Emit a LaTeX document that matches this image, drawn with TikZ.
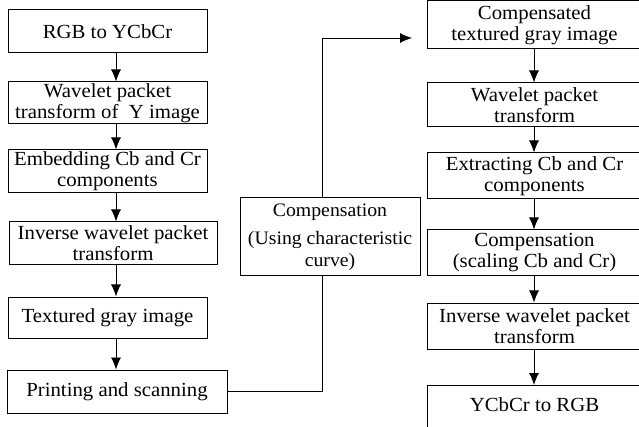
\documentclass[tikz,border=0pt]{standalone}
\usepackage{fontspec}
\setmainfont{Liberation Serif}[FakeStretch=1.04]
\usetikzlibrary{arrows.meta}

\begin{document}
\begin{tikzpicture}[x=1pt,y=-1pt,
    box/.style={draw, line width=1pt, align=center, inner sep=0pt,
        font=\rmfamily\fontsize{20}{21}\selectfont},
    arr/.style={line width=0.9pt, -{Latex[length=12pt,width=10pt]}}]

    % Fix the page to the size of the picture
    \useasboundingbox (0,0) rectangle (639,427);

    % Left column: from the colour image to the printed page
    \node[box, minimum width=199pt, minimum height=43pt] (b1) at (107.5,31.5) {RGB to YCbCr};
    \node[box, minimum width=199pt, minimum height=42pt] (b2) at (107.5,103) {Wavelet packet\\transform of\ \ Y image};
    \node[box, minimum width=199pt, minimum height=43pt] (b3) at (107.5,171.5) {Embedding Cb and Cr\\components};
    \node[box, minimum width=208pt, minimum height=43pt] (b4) at (113,243.5) {Inverse wavelet packet\\transform};
    \node[box, minimum width=199pt, minimum height=41pt] (b5) at (107.5,317.5) {Textured gray image};
    \node[box, minimum width=220pt, minimum height=43pt] (b6) at (117,391.5) {Printing and scanning};

    % Middle box
    \node[box, minimum width=180pt, minimum height=78pt, font=\rmfamily\fontsize{19}{22}\selectfont] (m) at (330,237)
        {Compensation\\[6pt](Using characteristic\\curve)};

    % Right column: from the scanned page back to colour
    \node[box, minimum width=215pt, minimum height=48pt] (r1) at (534.5,25) {Compensated\\textured gray image};
    \node[box, minimum width=215pt, minimum height=44pt] (r2) at (534.5,105) {Wavelet packet\\transform};
    \node[box, minimum width=215pt, minimum height=46pt] (r3) at (534.5,176) {Extracting Cb and Cr\\components};
    \node[box, minimum width=215pt, minimum height=46pt] (r4) at (534.5,253) {Compensation\\(scaling Cb and Cr)};
    \node[box, minimum width=215pt, minimum height=46pt] (r5) at (534.5,326) {Inverse wavelet packet\\transform};
    \node[box, minimum width=215pt, text height=26pt, text depth=34pt, anchor=north] (r6) at (534.5,385) {YCbCr to RGB};

    % Columns of the arrows
    \coordinate (lx) at (116,0);
    \coordinate (mx) at (322,0);
    \coordinate (rx) at (534,0);
    \coordinate (tip) at (412,38);

    % Arrows down the columns
    \foreach \a/\b in {b1/b2,b2/b3,b3/b4,b4/b5,b5/b6} {
        \draw[arr] (\a.south -| lx) -- (\b.north -| lx);
        }
    \foreach \a/\b in {r1/r2,r2/r3,r3/r4,r4/r5,r5/r6} {
        \draw[arr] (\a.south -| rx) -- (\b.north -| rx);
        }

    % Through the middle box
    \draw[line width=0.9pt] (b6.east) -| (m.south -| mx);
    \draw[arr] (m.north -| mx) |- (tip);
\end{tikzpicture}
\end{document}
